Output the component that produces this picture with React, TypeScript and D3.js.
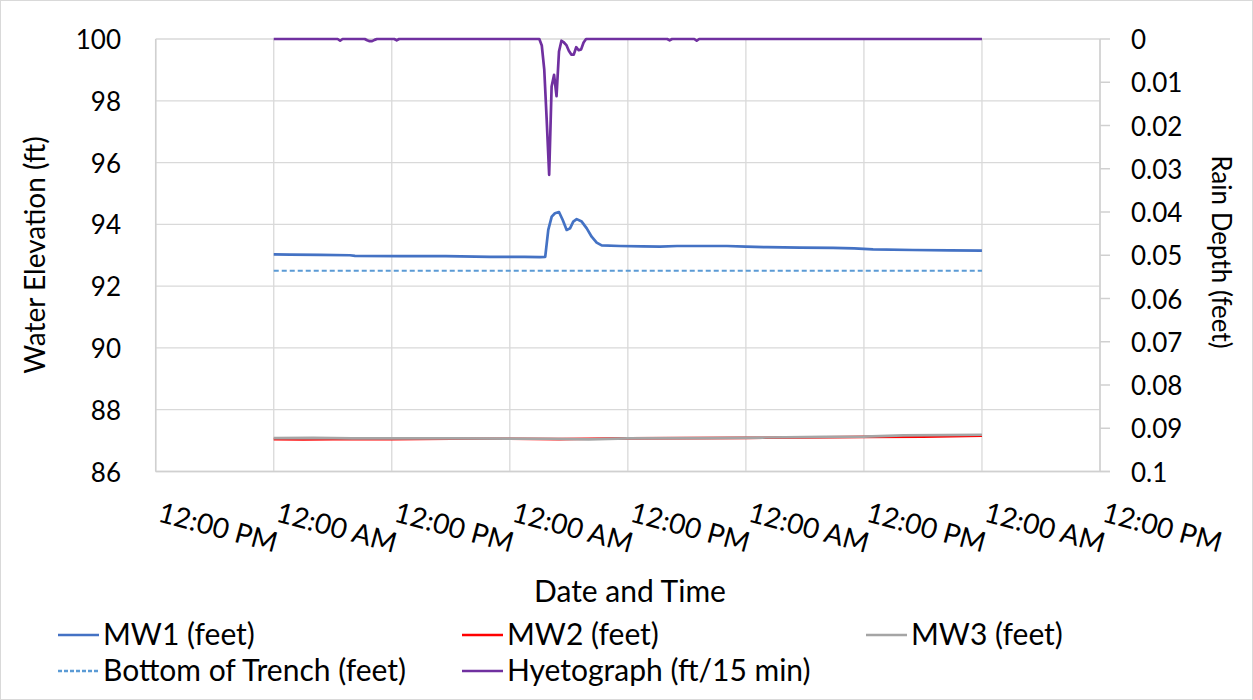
import React from "react";
import * as d3 from "d3";

// hours measured from the first 12:00 PM tick
const tickHours = [0, 12, 24, 36, 48, 60, 72, 84, 96];
const tickLabels = ["12:00 PM", "12:00 AM", "12:00 PM", "12:00 AM", "12:00 PM", "12:00 AM", "12:00 PM", "12:00 AM", "12:00 PM"];
const leftTicks = [86, 88, 90, 92, 94, 96, 98, 100];
const rightTicks = [0, 0.01, 0.02, 0.03, 0.04, 0.05, 0.06, 0.07, 0.08, 0.09, 0.1];

const mw1Hours = [12, 13.65, 16.7, 19.75, 20.26, 24.84, 29.5, 34, 37.5, 39.07, 39.6, 39.91, 40.26, 40.59, 41.0, 41.38, 41.78, 42.12, 42.45, 42.8, 43.31, 43.82, 44.32, 44.83, 45.34, 47.2, 49.5, 51.27, 53.0, 55.33, 58.08, 60.0, 62.15, 65.5, 68.86, 71.0, 72.93, 76.99, 80.75, 84];
const mw1Values = [93.03, 93.02, 93.01, 93.0, 92.98, 92.97, 92.97, 92.95, 92.95, 92.94, 92.95, 93.82, 94.25, 94.36, 94.4, 94.14, 93.82, 93.87, 94.09, 94.17, 94.09, 93.87, 93.6, 93.41, 93.32, 93.3, 93.29, 93.28, 93.3, 93.3, 93.3, 93.28, 93.26, 93.25, 93.24, 93.22, 93.19, 93.17, 93.16, 93.15];

const mw2Hours = [12, 15, 18, 24, 30, 36, 41, 44, 48, 54, 60, 66, 72, 78, 84];
const mw2Values = [87.05, 87.04, 87.05, 87.05, 87.06, 87.06, 87.05, 87.06, 87.07, 87.08, 87.09, 87.1, 87.12, 87.13, 87.16];

const mw3Hours = [12, 16, 20, 30, 40, 44, 48, 56, 62, 68, 72, 76, 84];
const mw3Values = [87.08, 87.09, 87.07, 87.07, 87.06, 87.04, 87.07, 87.08, 87.1, 87.12, 87.13, 87.17, 87.19];

const trenchHours = [12, 84];
const trenchValues = [92.5, 92.5];

const rainHours = [12, 18.5, 18.75, 19.0, 21.25, 21.5, 21.75, 22.0, 22.25, 22.5, 24.25, 24.5, 24.75, 39.0, 39.25, 39.5, 39.75, 40.0, 40.25, 40.5, 40.75, 41.0, 41.25, 41.5, 41.75, 42.0, 42.25, 42.5, 42.75, 43.0, 43.25, 43.5, 43.75, 52.0, 52.25, 52.5, 54.75, 55.0, 55.25, 84];
const rainValues = [0, 0, 0.0004, 0, 0, 0.0003, 0.0005, 0.0005, 0.0002, 0, 0, 0.0003, 0, 0, 0.0015, 0.007, 0.0187, 0.0314, 0.011, 0.0083, 0.0132, 0.0029, 0.0004, 0.0008, 0.0014, 0.0027, 0.0036, 0.0036, 0.0019, 0.0026, 0.0024, 0.0008, 0, 0, 0.0003, 0, 0, 0.0004, 0, 0];

const FONT = "Lato, 'Open Sans', sans-serif";

export default function App() {
  const W = 1253, H = 700;
  const x = d3.scaleLinear().domain([0, 96]).range([155.7, 1100]);
  const yL = d3.scaleLinear().domain([86, 100]).range([471.5, 39]);
  const yR = d3.scaleLinear().domain([0.1, 0]).range([471.5, 39]);

  const lineL = (hs: number[], vs: number[]) =>
    d3.line<number>().x((_, i) => x(hs[i])).y((v) => yL(v))(vs) || "";
  const lineR = (hs: number[], vs: number[]) =>
    d3.line<number>().x((_, i) => x(hs[i])).y((v) => yR(v))(vs) || "";

  const grid = "#d9d9d9";
  const textColor = "#000";
  const tickFs = 26;
  const xTickFs = 28;
  const legendFs = 30;

  const legend = [
    { label: "MW1 (feet)", color: "#4472C4", dash: "", lx: 58, ly: 645 },
    { label: "MW2 (feet)", color: "#FF0000", dash: "", lx: 462, ly: 645 },
    { label: "MW3 (feet)", color: "#A5A5A5", dash: "", lx: 866, ly: 645 },
    { label: "Bottom of Trench (feet)", color: "#5B9BD5", dash: "4,2", lx: 58, ly: 681 },
    { label: "Hyetograph (ft/15 min)", color: "#7030A0", dash: "", lx: 462, ly: 681 },
  ];

  return (
    <svg width={W} height={H} style={{ position: "absolute", left: 0, top: 0, background: "#fff" }} fontFamily={FONT}>
      <rect x={0.5} y={0.5} width={W - 1} height={H - 1} fill="#fff" stroke="#d9d9d9" />
      {leftTicks.map((v) => (
        <line key={"h" + v} x1={x(0)} x2={x(96)} y1={yL(v)} y2={yL(v)} stroke={grid} strokeWidth={1.3} />
      ))}
      {tickHours.map((h) => (
        <line key={"v" + h} x1={x(h)} x2={x(h)} y1={yL(100)} y2={yL(86)} stroke={grid} strokeWidth={1.3} />
      ))}
      <line x1={x(0)} x2={x(96) + 10} y1={yL(86)} y2={yL(86)} stroke="#d0d0d0" strokeWidth={1.5} />
      <line x1={x(0)} x2={x(0)} y1={yL(100)} y2={yL(86)} stroke="#d0d0d0" strokeWidth={1.5} />
      <line x1={x(96)} x2={x(96)} y1={yR(0)} y2={yR(0.1)} stroke="#d0d0d0" strokeWidth={1.5} />
      {rightTicks.map((v) => (
        <line key={"rt" + v} x1={x(96)} x2={x(96) + 10} y1={yR(v)} y2={yR(v)} stroke="#d0d0d0" strokeWidth={1.5} />
      ))}
      {leftTicks.map((v) => (
        <text key={"lt" + v} x={121} y={yL(v)} textAnchor="end" dominantBaseline="central" fontSize={tickFs} fill={textColor}>
          {v}
        </text>
      ))}
      {rightTicks.map((v) => (
        <text key={"rl" + v} x={1131} y={yR(v)} textAnchor="start" dominantBaseline="central" fontSize={tickFs} fill={textColor}>
          {String(+v.toFixed(2))}
        </text>
      ))}
      {tickHours.map((h, i) => (
        <text key={"xt" + h} x={x(h) + 1} y={521} transform={`rotate(15, ${x(h) + 1}, 521)`} fontSize={xTickFs} fill={textColor}>
          {tickLabels[i]}
        </text>
      ))}
      <text x={0} y={0} transform={`translate(34, 255) rotate(-90)`} textAnchor="middle" dominantBaseline="central" fontSize={28} fill={textColor}>
        Water Elevation (ft)
      </text>
      <text x={0} y={0} transform={`translate(1222, 252) rotate(90)`} textAnchor="middle" dominantBaseline="central" fontSize={26} fill={textColor}>
        Rain Depth (feet)
      </text>
      <text x={630} y={602} textAnchor="middle" fontSize={legendFs} fill={textColor}>
        Date and Time
      </text>
      <path d={lineL(mw1Hours, mw1Values)} fill="none" stroke="#4472C4" strokeWidth={2.7} strokeLinejoin="round" />
      <path d={lineL(mw2Hours, mw2Values)} fill="none" stroke="#FF0000" strokeWidth={2.7} strokeLinejoin="round" />
      <path d={lineL(mw3Hours, mw3Values)} fill="none" stroke="#A5A5A5" strokeWidth={2.7} strokeLinejoin="round" />
      <path d={lineL(trenchHours, trenchValues)} fill="none" stroke="#5B9BD5" strokeWidth={2} strokeDasharray="5,3" />
      <path d={lineR(rainHours, rainValues)} fill="none" stroke="#7030A0" strokeWidth={2.7} strokeLinejoin="round" />
      {legend.map((l) => (
        <g key={l.label}>
          <line x1={l.lx} x2={l.lx + 41} y1={l.ly - 10} y2={l.ly - 10} stroke={l.color} strokeWidth={2.7} strokeDasharray={l.dash || undefined} />
          <text x={l.lx + 45} y={l.ly} fontSize={legendFs} fill={textColor}>
            {l.label}
          </text>
        </g>
      ))}
    </svg>
  );
}
